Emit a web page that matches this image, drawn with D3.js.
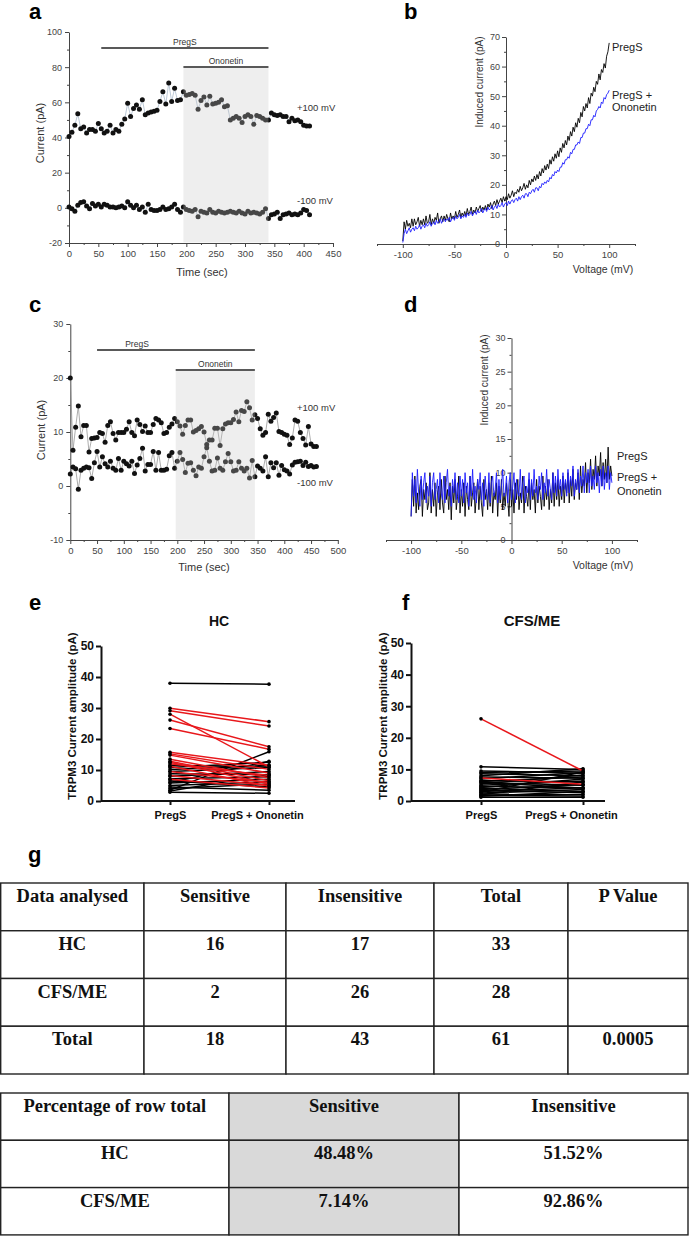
<!DOCTYPE html>
<html><head><meta charset="utf-8">
<script src="https://cdn.jsdelivr.net/npm/d3@7"></script>
<style>body{margin:0;background:#fff}svg{display:block}</style>
</head><body>
<svg id="fig" width="689" height="1236"></svg>
<script>
// ---------------- DATA ----------------
// Panel a: current at +100 / -100 mV, one sample every 5 s from t = 0
const aStepSec = 5;
const aPos100 = [40.5,43,47,53.5,45,46,42.5,44.5,44.5,43.5, 48,45,42.5,43.5,47,42.5,44.5,43.5,47.5,50.5,
  59.5,52,56.5,58.5,56,61.5,53,54,54.5,55, 55.5,60.5,66,59,71,60.5,68,61,61.5,66,
  64,64.5,65,64,56,61,63,58.5,63.5,59, 59.5,60,61.5,57.5,58,50,51,52,51,48.5,
  52,53,52,47.5,52.5,52,51,50,50,54, 53,52.5,53,52,52,49,51,49.5,50,49, 47,46.5,46.5];
const aNeg100 = [0.5,-0.5,-2,1.5,3,3.5,1,-0.5,2.5,1, 2,0.5,2,1.5,0.5,0.5,0,0.5,1,0,
  3.5,1.5,0,1.5,-1,0.5,-2.5,2,-1,-1.5, -1.5,-1,0.5,-1,-0.5,0.5,2,-1,-2.5,0.5,
  -1,-1.5,-2,-1,-5,-2,-2.5,-3,-1,-2.5, -3,-2,-2.5,-3,-2.5,-2,-2.5,-3,-2,-3,
  -3.5,-2,-3,-2.5,-3,-3.5,-2.5,-0.5,-6,-4, -3.5,-2.5,-6,-4,-3.5,-3,-4,-3.5,-4,-3, -1,-1.5,-4];
const aPregS = [55, 340];
const aOnonetin = [195, 340];

// Panel c
const cStepSec = 5;
const cPos100 = [20,6.6,10.9,14.8,9.1,11.2,11.2,6.3,8.8,8.9, 9.0,9.9,9.7,8.1,11.2,11.9,9.7,8.5,9.9,9.9,
  9.9,10.5,11.9,9.9,9.3,12.2,11.4,10.1,11.1,9.9, 9.9,11.4,12.5,12.2,11.7,9.7,9.9,10.9,11.5,12.5,
  11.9,11.1,9.6,11.2,12.2,12.2,10.0,10.3,10.6,11.0, 10.0,7.7,8.5,8.5,10.7,10.7,7.5,10.6,11.5,11.7,
  11.7,12.3,13.7,11.9,14.0,13.8,15.6,14.5,12.2,13.2, 12.5,10.6,9.4,9.9,13.3,12.0,12.7,13.5,10.1,9.9,
  9.6,9.4,7.7,8.9,12.2,12.0,9.9,8.8,7.6,11.0, 7.8,7.3,7.3];
const cNeg100 = [2.2,3.5,3.2,-0.6,2.9,3.3,3.5,3.4,1.4,4.3, 6.4,3.5,5.4,4.1,3.5,4.6,3.3,2.9,5.1,2.9,
  4.6,4.1,3.7,4.6,2.3,3.9,5.1,7.0,2.8,4.0, 4.0,6.4,2.9,6.2,2.9,2.9,3.1,5.6,6.2,3.3,
  4.6,6.2,4.9,2.5,4.2,4.3,2.9,1.9,3.5,3.3, 5.4,7.1,4.6,2.8,2.9,5.2,3.3,2.9,4.5,6.0,
  4.5,2.8,2.9,4.5,3.3,2.8,3.3,1.5,4.7,1.7, 3.7,3.3,2.8,5.4,1.7,4.3,3.4,4.3,2.0,3.8,
  3.0,2.8,2.2,3.9,4.4,4.5,4.6,3.8,4.4,3.6, 3.8,3.5,3.6];
const cPregS = [50, 345];
const cOnonetin = [197, 345];

// Panels b, d: I-V traces sampled every 1.25 mV from -100 mV to +100 mV
const ivStartMv = -100, ivStepMv = 1.25;
const bPregS = [
  1,7.5,5,8,6,7,5.5,8.5, 6,8.5,6.5,7.5,9,6,8,6.5, 8.5,6.5,9.5,7,7.5,10,6.5,8.5, 7,9,8,10.5,7,8.5,9.5,7.5,
  9.5,8,10,8.5,7.5,10.5,8.5,9.5, 8.5,11,9,10,11.5,9,10.5,9.5, 11,9.5,12,10,11,12.5,10,11.5, 10.5,12.5,11,12,13,11,12.5,11.5,
  13,11.5,13.5,12.5,14,12,13.5,14.5, 13,15,13.5,14.5,15.5,14,16,14.5, 16,15,17,15.5,16.5,18,16,17.5, 17,18.5,17.5,19.5,18,19,20.5,18.5,
  20,19,21.5,20,22,21,23,21.5, 23.5,22,24.5,23,25.5,24,26.5,25, 27,25.5,28.5,27,29.5,28,30.5,29, 31.5,29.5,32.5,31,34,32.5,35,33.5,
  36.5,35,38,36.5,39.5,38,41,39.5, 42.5,41,44.5,43,46.5,45,47.5,46, 49.5,47.5,51,50,53,51.5,55,54, 57.5,55.5,59,58,61,59.5,63.5,65, 68];
const bPregSOnonetin = [
  0.5,3.5,5,3.5,4.5,5.5,4,5, 5.5,4.5,6,5,5.5,6.5,5,6, 6.5,5.5,7,6,6.5,7.5,6,7, 7.5,6.5,8,7,7.5,8.5,7,8,
  8.5,7.5,8.5,8,9,7.5,8.5,9, 8,9.5,8.5,9,10,8.5,9.5,9, 10,9,10.5,9.5,10,11,9.5,10.5, 11,10,11.5,10.5,11,12,10.5,11.5,
  12,11,12.5,11.5,12,13,11.5,12.5, 13,12,13.5,12.5,13,14,12.5,13.5, 14,13,14.5,13.5,14.5,15,14,15, 15.5,14.5,16,15,16,16.5,15.5,17,
  17,16,17.5,17,18,18.5,17.5,19, 19,18,19.5,19,20.5,20,21,20.5, 21.5,21,22.5,22,23.5,23,24.5,24, 25,24.5,26,26,27.5,27,28.5,28.5,
  29.5,29,31,30.5,32,32,33.5,33.5, 34.5,34,36,36,37.5,37.5,39,39, 40.5,40,42,42,43.5,43,45,45.5, 46.5,46,48,47.5,49.5,49,50.5,51, 52];
const dPregS = [
  3.5,9,5,9.5,4,7,4.5,8,9,3.5, 7.5,6,8.5,4.5,5.5,10,4,7.5,5,8.5, 3.5,7,8,4.5,9,5.5,4,9.5,6,7.5, 4.5,8.5,3,8,5.5,9,4.5,6.5,9.5,4,
  7.5,5,8.5,3.5,8,6,4.5,9.5,5,7, 8.5,4,6.5,9,4.5,8,5.5,3.5,9,6, 7.5,4.5,8.5,5,9.5,4,7,6,8.5,3.5, 8,5.5,9,4.5,7,5,8.5,6,3.5,9,
  5,7.5,4,8.5,6,9,4.5,7,5.5,9.5, 4,8,6.5,5,9,4.5,8.5,6,7.5,4, 9,5.5,8,6.5,4.5,9.5,5,8,6,9, 4.5,7.5,5.5,10,5,8.5,6,9,5,8,
  6,9.5,5.5,8.5,7,10,5.5,9,6.5,10.5, 6,8.5,7.5,10,6,11,7,9,8,11.5, 7,10,8.5,12,7.5,10.5,9,12.5,8,11, 9.5,13,8,11.5,9,12,8.5,13.8,9,11, 9.5];
const dPregSOnonetin = [
  3.5,10,6.5,9,5.5,10.5,7,5,9.5,6, 8.5,10,5.5,8,6.5,9.5,5,8.5,10,6, 7.5,9,5.5,10,7,6,9.5,5.5,8.5,10.5, 6.5,8,5,9,7,10,6,8.5,5.5,9.5,
  6.5,9,5.5,10,7,8.5,5,9.5,6.5,10.5, 6,8,5.5,9,7.5,10,6,8.5,5,9.5, 7,6,10,5.5,8.5,9.5,6.5,7.5,10,5.5, 9,6,8,10.5,6.5,7,9.5,5.5,8.5,10,
  6,8,10,5.5,9,7,6.5,10.5,6,8.5, 9.5,5.5,8,7,10,6,9,6.5,10.5,7, 8,6,9.5,7.5,10,6,8.5,7,10.5,6.5, 9,7.5,6,10,7,9.5,6.5,10.5,7.5,9,
  6.5,10,7.5,9,6.5,10.5,7,9.5,8,11, 6.5,9,7.5,10.5,7,9.5,8,11,7,10, 8.5,10.5,7,11,8,9.5,7.5,11,8.5,10, 7,10.5,8,11,7.5,10,8.5,11,7.5,10, 8.5];

// Panels e, f: paired amplitudes (pA), PregS -> PregS + Ononetin; 1 = ononetin sensitive
const conditions = ["PregS", "PregS + Ononetin"];
const hcPregS     = [38.0,3.5,10.8,10.2,9.5,8.8,8.0,7.2,6.5,5.8,5.0,4.5,4.0,3.2,2.8,6.0,11.5,
                     29.9,29.1,28.0,26.1,23.4,15.7,15.2,14.8,13.5,12.8,12.5,12.0,11.2,9.5,8.2,7.0];
const hcOnonetin  = [37.7,15.9,12.5,11.5,10.8,8.5,9.5,7.8,4.5,7.0,6.2,3.5,5.5,8.5,2.5,12.8,11.0,
                     25.6,24.2,11.0,17.5,16.7,11.5,10.2,9.0,7.5,6.5,5.5,8.2,4.8,6.0,5.0,4.2];
const hcSensitive = [0,0,0,0,0,0,0,0,0,0,0,0,0,0,0,0,0, 1,1,1,1,1,1,1,1,1,1,1,1,1,1,1,1];
const mePregS     = [10.8,9.0,8.6,8.0,7.6,7.0,6.5,6.2,5.8,5.4,5.0,4.6,4.3,4.0,3.6,3.4,3.0,2.8,2.5,2.2,2.0,1.8,1.5,1.2,6.0,9.5, 26.0,7.3];
const meOnonetin  = [10.0,9.5,8.0,10.2,7.2,9.0,6.0,7.6,5.0,8.2,6.3,4.2,7.0,3.0,5.2,2.6,4.2,9.2,3.6,2.1,6.0,1.6,3.0,1.2,4.0,8.8, 9.5,5.3];
const meSensitive = [0,0,0,0,0,0,0,0,0,0,0,0,0,0,0,0,0,0,0,0,0,0,0,0,0,0, 1,1];
const ampTicks = [0,10,20,30,40,50];

// Panel g tables
const t1Header = ["Data analysed","Sensitive","Insensitive","Total","P Value"];
const t1Rows = [["HC","16","17","33",""],["CFS/ME","2","26","28",""],["Total","18","43","61","0.0005"]];
const t2Header = ["Percentage of row total","Sensitive","Insensitive"];
const t2Rows = [["HC","48.48%","51.52%"],["CFS/ME","7.14%","92.86%"]];

// ---------------- DRAWING ----------------
const SANS = '"Liberation Sans", Arial, sans-serif';
const SERIF = '"Liberation Serif", "Times New Roman", serif';
const svg = d3.select("#fig");
const fmt = d => String(d);

function styleAxis(g, color, size, weight, width) {
  g.selectAll("path,line").attr("stroke", color).attr("stroke-width", width || 1);
  g.selectAll("text").attr("fill", color).attr("font-family", SANS)
    .attr("font-size", size).attr("font-weight", weight || "normal");
}
function minorAxis(g, axis) {
  g.call(axis.tickFormat("")); g.select(".domain").remove();
}
function panelLabel(t, x, y) {
  svg.append("text").attr("x", x).attr("y", y).text(t)
    .attr("font-family", SANS).attr("font-weight", "bold").attr("font-size", 22).attr("fill", "#000");
}
function txt(t, x, y, size, opts) {
  opts = opts || {};
  const e = svg.append("text").attr("x", x).attr("y", y).text(t)
    .attr("font-family", opts.family || SANS).attr("font-size", size)
    .attr("font-weight", opts.weight || "normal").attr("fill", opts.fill || "#333")
    .attr("text-anchor", opts.anchor || "middle");
  if (opts.rotate) e.attr("transform", `rotate(-90,${x},${y})`);
  return e;
}

// Time-course panel
function timePanel(p) {
  const x = d3.scaleLinear().domain(p.xd).range(p.xr);
  const y = d3.scaleLinear().domain(p.yd).range(p.yr);
  const g = svg.append("g");
  const ya = g.append("g").attr("transform", `translate(${p.xr[0]},0)`)
    .call(d3.axisLeft(y).tickValues(p.yMajor).tickSize(4).tickSizeOuter(0).tickPadding(3).tickFormat(fmt));
  styleAxis(ya, "#444", 9);
  const ym = g.append("g").attr("transform", `translate(${p.xr[0]},0)`);
  minorAxis(ym, d3.axisLeft(y).tickValues(p.yMinor).tickSize(2)); styleAxis(ym, "#444", 9);
  const xa = g.append("g").attr("transform", `translate(0,${p.yr[0]})`)
    .call(d3.axisBottom(x).tickValues(p.xMajor).tickSize(4).tickSizeOuter(0).tickPadding(3).tickFormat(fmt));
  styleAxis(xa, "#444", 9.5);
  const xm = g.append("g").attr("transform", `translate(0,${p.yr[0]})`);
  minorAxis(xm, d3.axisBottom(x).tickValues(p.xMinor).tickSize(2)); styleAxis(xm, "#444", 9);
  [p.pos, p.neg].forEach(arr => {
    const pts = arr.map((v, i) => [i * p.step, v]);
    g.append("path").datum(pts).attr("fill", "none").attr("stroke", p.lineColor).attr("stroke-width", 0.7)
      .attr("d", d3.line().x(d => x(d[0])).y(d => y(d[1])));
    g.selectAll(null).data(pts).enter().append("circle")
      .attr("cx", d => x(d[0])).attr("cy", d => y(d[1])).attr("r", 2.5).attr("fill", "#111");
  });
  g.append("rect").attr("x", x(p.onon[0])).attr("width", x(p.onon[1]) - x(p.onon[0]))
    .attr("y", p.shadeTop).attr("height", p.yr[0] - p.shadeTop - 0.5)
    .attr("fill", "#c8c8c8").attr("opacity", 0.3);
  g.append("line").attr("x1", x(p.pregs[0])).attr("x2", x(p.pregs[1])).attr("y1", p.pregsY).attr("y2", p.pregsY)
    .attr("stroke", "#222").attr("stroke-width", 1.5);
  g.append("line").attr("x1", x(p.onon[0])).attr("x2", x(p.onon[1])).attr("y1", p.ononY).attr("y2", p.ononY)
    .attr("stroke", "#222").attr("stroke-width", 1.5);
  txt("PregS", p.pregsLabelX || (x(p.pregs[0]) + x(p.pregs[1])) / 2, p.pregsY - 3, 8.5);
  txt("Ononetin", (x(p.onon[0]) + x(p.onon[1])) / 2, p.ononY - 3, 8.5);
  txt("+100 mV", p.mvX, p.posLabelY, 9.5, {anchor: "start"});
  txt("-100 mV", p.mvX, p.negLabelY, 9.5, {anchor: "start"});
  txt("Time (sec)", p.titleX, p.titleY, 11);
  txt("Current (pA)", p.yTitleX, p.yTitleY, 11, {rotate: true});
}

timePanel({xd:[0,450], xr:[69,333], yd:[-20,100], yr:[243,32],
  yMajor:[-20,0,20,40,60,80,100], yMinor:[-10,10,30,50,70,90],
  xMajor:d3.range(0,451,50), xMinor:d3.range(25,451,50),
  pos:aPos100, neg:aNeg100, step:aStepSec, lineColor:"#9fb2c6",
  pregs:aPregS, onon:aOnonetin, pregsY:48, ononY:67, shadeTop:68,
  mvX:297, posLabelY:111, negLabelY:204, titleX:202, titleY:276, yTitleX:44, yTitleY:133});
panelLabel("a", 29, 19);

timePanel({xd:[0,500], xr:[70.3,337.8], yd:[-10,30], yr:[540,324],
  yMajor:[-10,0,10,20,30], yMinor:[-5,5,15,25],
  xMajor:d3.range(0,501,50), xMinor:d3.range(25,501,50),
  pos:cPos100, neg:cNeg100, step:cStepSec, lineColor:"#8a8a8a",
  pregs:cPregS, onon:cOnonetin, pregsY:350, ononY:370, shadeTop:371, pregsLabelX:137,
  mvX:297, posLabelY:411, negLabelY:486, titleX:204, titleY:571, yTitleX:45, yTitleY:430});
panelLabel("c", 29, 312);

// I-V panels
function ivPanel(p) {
  const x = d3.scaleLinear().domain([-125,125]).range(p.xr);
  const y = d3.scaleLinear().domain(p.yd).range(p.yr);
  const g = svg.append("g");
  const ya = g.append("g").attr("transform", `translate(${x(0)},0)`)
    .call(d3.axisLeft(y).tickValues(p.yMajor).tickSize(4).tickSizeOuter(0).tickPadding(2).tickFormat(fmt));
  styleAxis(ya, "#444", 9);
  const ym = g.append("g").attr("transform", `translate(${x(0)},0)`);
  minorAxis(ym, d3.axisLeft(y).tickValues(p.yMinor).tickSize(2)); styleAxis(ym, "#444", 9);
  const xa = g.append("g").attr("transform", `translate(0,${p.yr[0]})`)
    .call(d3.axisBottom(x).tickValues([-100,-50,0,50,100]).tickSize(4).tickSizeOuter(0).tickPadding(3).tickFormat(fmt));
  styleAxis(xa, "#444", 9.5);
  const xm = g.append("g").attr("transform", `translate(0,${p.yr[0]})`);
  minorAxis(xm, d3.axisBottom(x).tickValues([-125,-75,-25,25,75,125]).tickSize(2)); styleAxis(xm, "#444", 9);
  const line = d3.line().x((d, i) => x(ivStartMv + i * ivStepMv)).y(d => y(d));
  g.append("path").datum(p.black).attr("fill", "none").attr("stroke", "#000").attr("stroke-width", 0.9).attr("d", line);
  g.append("path").datum(p.blue).attr("fill", "none").attr("stroke", "#1c1cff").attr("stroke-width", 0.9).attr("d", line);
  txt("PregS", p.lblX, p.lblY[0], 11, {anchor: "start", fill: "#222"});
  txt("PregS +", p.lblX, p.lblY[1], 11, {anchor: "start", fill: "#222"});
  txt("Ononetin", p.lblX, p.lblY[2], 11, {anchor: "start", fill: "#222"});
  txt("Voltage (mV)", 603, p.yr[0] + 29, 10.5);
  txt("Induced current (pA)", p.yTitleX, p.yTitleY, 10, {rotate: true});
}
ivPanel({xr:[377,635], yd:[0,70], yr:[244,37], yMajor:[0,10,20,30,40,50,60,70], yMinor:[5,15,25,35,45,55,65],
  black:bPregS, blue:bPregSOnonetin, lblX:612, lblY:[51,99,111], yTitleX:483, yTitleY:82});
panelLabel("b", 404, 19);
ivPanel({xr:[386,637], yd:[0,30], yr:[540,338], yMajor:[0,5,10,15,20,25,30], yMinor:[2.5,7.5,12.5,17.5,22.5,27.5],
  black:dPregS, blue:dPregSOnonetin, lblX:617, lblY:[460,481,495], yTitleX:488, yTitleY:380});
panelLabel("d", 404, 312);

// Paired amplitude panels
function pairPanel(p) {
  const y = d3.scaleLinear().domain([0,50]).range([801, p.top]);
  const x = d3.scalePoint().domain(conditions).range(p.xs);
  const g = svg.append("g");
  const ya = g.append("g").attr("transform", `translate(${p.x0},0)`)
    .call(d3.axisLeft(y).tickValues(ampTicks).tickSize(5).tickSizeOuter(0).tickPadding(2).tickFormat(fmt));
  styleAxis(ya, "#111", 12, "bold", 2);
  const xa = g.append("g").attr("transform", `translate(0,801)`)
    .call(d3.axisBottom(x).tickSize(4).tickSizeOuter(0).tickPadding(6));
  xa.select(".domain").attr("d", `M${p.x0},0H${p.x1}`);
  styleAxis(xa, "#111", 11, "bold", 2);
  xa.selectAll(".tick text").filter(d => d === conditions[1]).attr("dx", -12);
  const pairs = p.before.map((b, i) => ({b, a: p.after[i], s: p.sens[i]}));
  const ordered = pairs.filter(d => !d.s).concat(pairs.filter(d => d.s));
  ordered.forEach(d => {
    const col = d.s ? "#e8171b" : "#000";
    g.append("line").attr("x1", x(conditions[0])).attr("x2", x(conditions[1]))
      .attr("y1", y(d.b)).attr("y2", y(d.a)).attr("stroke", col).attr("stroke-width", 1.5);
    g.append("circle").attr("cx", x(conditions[0])).attr("cy", y(d.b)).attr("r", 1.8).attr("fill", "#000");
    g.append("circle").attr("cx", x(conditions[1])).attr("cy", y(d.a)).attr("r", 1.8).attr("fill", "#000");
  });
  txt(p.title, p.titleX, 626, p.titleSize, {weight: "bold", fill: "#111"});
  txt("TRPM3 Current amplitude (pA)", p.yTitleX, 716, 11.5, {weight: "bold", fill: "#111", rotate: true});
}
pairPanel({x0:101, x1:295, xs:[170,269], top:646, before:hcPregS, after:hcOnonetin, sens:hcSensitive,
  title:"HC", titleX:219, titleSize:14, yTitleX:76});
panelLabel("e", 29, 610);
pairPanel({x0:411, x1:605, xs:[481,583], top:643, before:mePregS, after:meOnonetin, sens:meSensitive,
  title:"CFS/ME", titleX:532, titleSize:15, yTitleX:387});
panelLabel("f", 402, 610);

// Tables
panelLabel("g", 28, 862);
function table(header, rows, cols, top, rowH, shadeCol) {
  const g = svg.append("g");
  const all = [header].concat(rows);
  all.forEach((r, ri) => {
    r.forEach((c, ci) => {
      const x0 = cols[ci], x1 = cols[ci + 1], y0 = top + ri * rowH;
      g.append("rect").attr("x", x0).attr("y", y0).attr("width", x1 - x0).attr("height", rowH)
        .attr("fill", ci === shadeCol ? "#d9d9d9" : "#fff").attr("stroke", "#222").attr("stroke-width", 1.4);
      g.append("text").attr("x", (x0 + x1) / 2).attr("y", y0 + 19).text(c)
        .attr("text-anchor", "middle").attr("font-family", SERIF).attr("font-weight", "bold")
        .attr("font-size", 18.5).attr("fill", "#111");
    });
  });
}
table(t1Header, t1Rows, [0.7,144,286,434,568,688], 883, 47.75, -1);
table(t2Header, t2Rows, [0.7,229,459,688], 1093, 47.3, 1);
</script></body></html>
